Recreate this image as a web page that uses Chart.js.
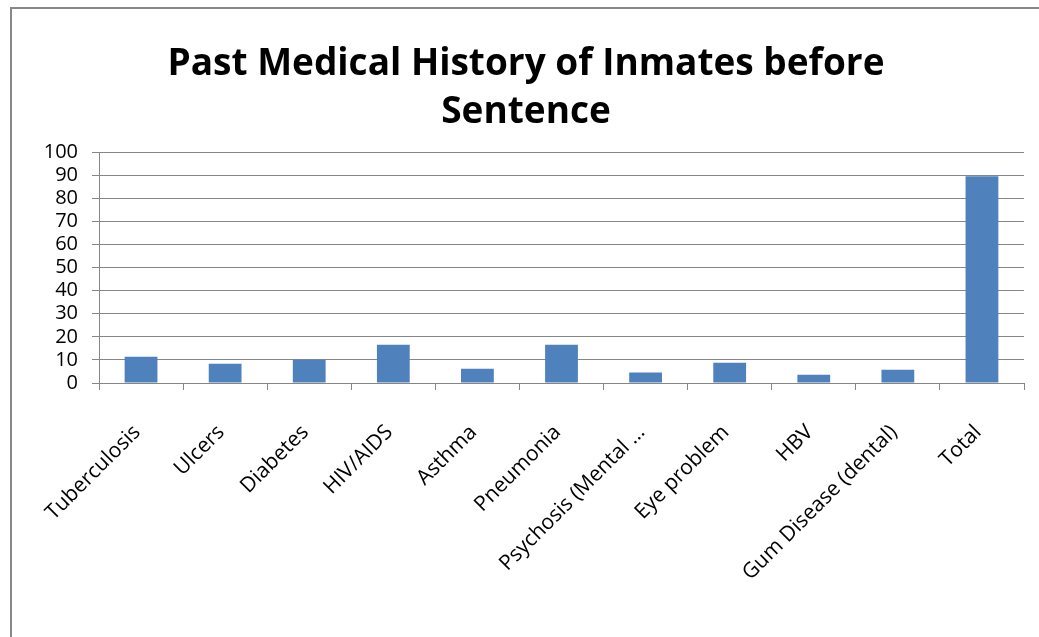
<!DOCTYPE html>
<html lang="en">
<head>
  <meta charset="UTF-8">
  <title>Past Medical History of Inmates before Sentence</title>
  <style>
    body {
      margin: 0;
      background: #fff;
      overflow: hidden;
    }
    .frame {
      position: absolute;
      left: 10px;
      top: 7px;
      width: 1100px;
      height: 700px;
      border-left: 2px solid #888;
      border-top: 2px solid #888;
    }
    .wrap {
      position: absolute;
      left: 0;
      top: 0;
      width: 1039px;
      height: 637px;
    }
  </style>
  <script src="https://cdn.jsdelivr.net/npm/chart.js"></script>
</head>
<body>
  <div class="frame"></div>
  <div class="wrap">
    <canvas id="historyChart" width="1039" height="637"></canvas>
  </div>

  <script>
    const conditions = [
      'Tuberculosis', 'Ulcers', 'Diabetes', 'HIV/AIDS', 'Asthma', 'Pneumonia',
      'Psychosis (Mental …', 'Eye problem', 'HBV', 'Gum Disease (dental)', 'Total'
    ];
    const inmateCounts = [11.4, 8.3, 10.1, 16.6, 6.2, 16.6, 4.5, 8.8, 3.6, 5.7, 89.6];
    const yTicks = [0, 10, 20, 30, 40, 50, 60, 70, 80, 90, 100];

    const titleLines = ['Past Medical History of Inmates before', 'Sentence'];
    const labelFont = "'Open Sans', sans-serif";

    const ctx = document.getElementById('historyChart').getContext('2d');

    const historyChart = new Chart(ctx, {
      type: 'bar',
      data: {
        labels: conditions,
        datasets: [{
          label: 'Inmates',
          data: inmateCounts,
          backgroundColor: '#4f81bd',
          borderWidth: 0,
          categoryPercentage: 1.0,
          barPercentage: 0.39
        }]
      },
      options: {
        responsive: false,
        animation: false,
        layout: {
          // left padding shifts the title centre to match the frame
          padding: { left: 28, right: 15, top: 0, bottom: 0 }
        },
        plugins: {
          legend: { display: false },
          tooltip: { enabled: false },
          title: {
            display: true,
            text: titleLines,
            color: '#000',
            font: { family: labelFont, size: 37, weight: 'bold', lineHeight: 1.3 },
            padding: { top: 40, bottom: 16 }
          }
        },
        scales: {
          x: {
            afterFit: (scale) => { scale.height = 254; },
            grid: {
              display: true,
              offset: true,
              drawOnChartArea: false,
              drawTicks: true,
              tickLength: 7,
              color: '#868686'
            },
            border: { display: true, color: '#868686', width: 1 },
            ticks: {
              color: '#000',
              font: { family: labelFont, size: 21 },
              minRotation: 45,
              maxRotation: 45,
              autoSkip: false,
              labelOffset: -4,
              padding: 30
            }
          },
          y: {
            min: 0,
            max: 100,
            afterFit: (scale) => { scale.width = 71; },
            afterBuildTicks: (scale) => {
              scale.ticks = yTicks.map(v => ({ value: v }));
            },
            grid: {
              color: '#868686',
              lineWidth: 1,
              tickLength: 7
            },
            border: { display: true, color: '#868686', width: 1 },
            ticks: {
              color: '#000',
              autoSkip: false,
              font: { family: labelFont, size: 20 },
              padding: 14
            }
          }
        }
      }
    });
  </script>
</body>
</html>
